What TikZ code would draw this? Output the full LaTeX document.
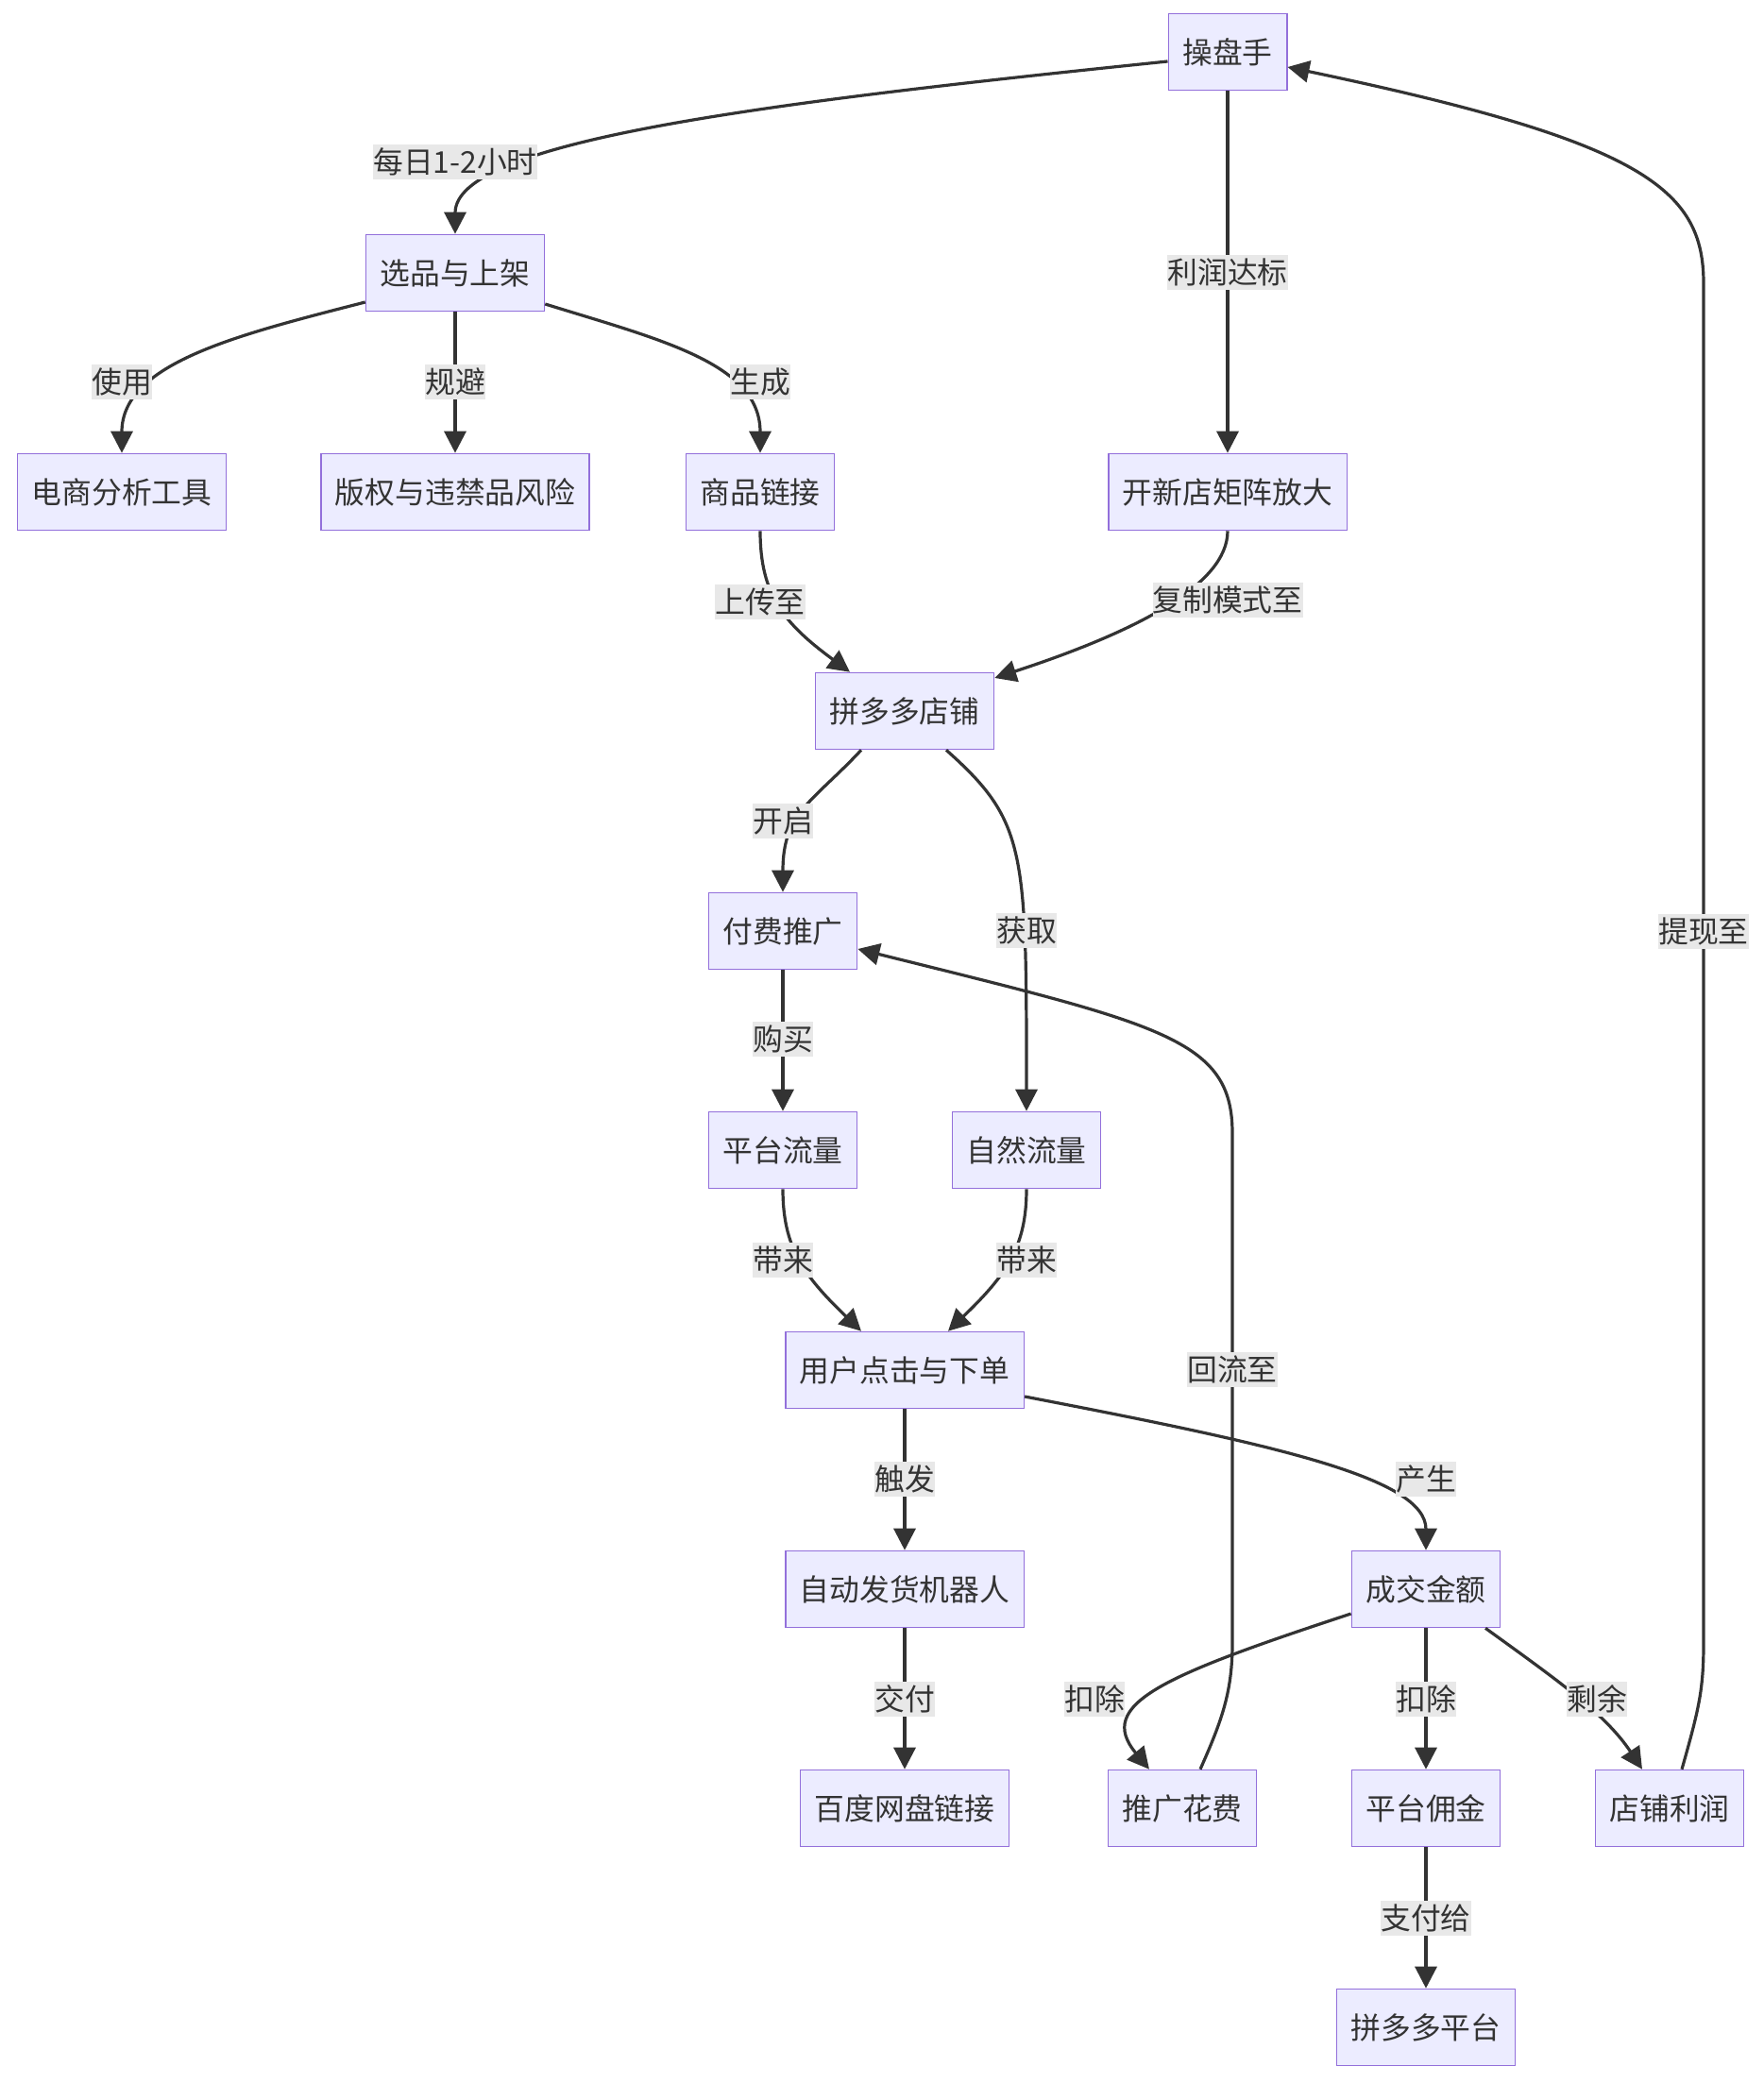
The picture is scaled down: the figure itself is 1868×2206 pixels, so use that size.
\documentclass[tikz,border=0pt]{standalone}
\usepackage{fontspec}
\setmainfont{Noto Sans CJK SC}
\usetikzlibrary{arrows.meta}
\definecolor{nodefill}{HTML}{ECECFF}
\definecolor{nodeline}{HTML}{9370DB}
\definecolor{edgecol}{HTML}{333333}
\definecolor{lblbg}{HTML}{E8E8E8}
\begin{document}
\begin{tikzpicture}[x=1pt,y=-1pt,
  box/.style={draw=nodeline,fill=nodefill,line width=1.6pt,minimum height=81pt,
    inner xsep=15pt,inner ysep=0pt,text=edgecol,
    font=\fontsize{31.8pt}{38pt}\selectfont,text height=27pt,text depth=3pt},
  lbl/.style={fill=lblbg,inner sep=0pt,minimum height=37pt,text=edgecol,
    font=\fontsize{31.8pt}{38pt}\selectfont,text height=27pt,text depth=3pt},
  link/.style={draw=edgecol,line width=3.2pt,-{Triangle[length=23pt,width=23pt]}}]
\fill[white] (0,0) rectangle (1868,2206);
\useasboundingbox (0,0) rectangle (1868,2206);

% nodes
\node[box] (cps) at (1300,55) {操盘手};
\node[box] (xp) at (482,289) {选品与上架};
\node[box] (ds) at (129,521) {电商分析工具};
\node[box] (bq) at (482,521) {版权与违禁品风险};
\node[box] (sp) at (805,521) {商品链接};
\node[box] (kx) at (1300,521) {开新店矩阵放大};
\node[box] (pd) at (958,753) {拼多多店铺};
\node[box] (ff) at (829,986) {付费推广};
\node[box] (pl) at (829,1218) {平台流量};
\node[box] (zr) at (1087,1218) {自然流量};
\node[box] (yh) at (958,1451) {用户点击与下单};
\node[box] (zd) at (958,1683) {自动发货机器人};
\node[box] (cj) at (1510,1683) {成交金额};
\node[box] (bd) at (958,1915) {百度网盘链接};
\node[box] (tg) at (1252,1915) {推广花费};
\node[box] (yj) at (1510,1915) {平台佣金};
\node[box] (dp) at (1768,1915) {店铺利润};
\node[box] (pt) at (1510,2147) {拼多多平台};

% edges
\draw[link] ([yshift=-10pt]cps.west) .. controls (800,110) and (482,150) .. (xp.north);
\draw[link] (cps.south) -- (kx.north);
\draw[link] ([yshift=-31pt]xp.west) .. controls (250,355) and (129,385) .. (ds.north);
\draw[link] (xp.south) -- (bq.north);
\draw[link] ([yshift=-33pt]xp.east) .. controls (700,360) and (805,385) .. (sp.north);
\draw[link] (sp.south) .. controls (805,630) and (830,660) .. ([xshift=-58pt]pd.north);
\draw[link] (kx.south) .. controls (1300,620) and (1200,670) .. ([yshift=35pt]pd.east);
\draw[link] ([xshift=-46pt]pd.south) .. controls (860,850) and (829,860) .. (ff.north);
\draw[link] ([xshift=44pt]pd.south) .. controls (1087,870) and (1087,900) .. (zr.north);
\draw[link] (ff.south) -- (pl.north);
\draw[link] (pl.south) .. controls (829,1320) and (850,1350) .. ([xshift=-46pt]yh.north);
\draw[link] (zr.south) .. controls (1087,1320) and (1066,1350) .. ([xshift=46pt]yh.north);
\draw[link] (yh.south) -- (zd.north);
\draw[link] ([yshift=-28pt]yh.east) .. controls (1350,1530) and (1510,1565) .. (cj.north);
\draw[link] (zd.south) -- (bd.north);
\draw[link] ([yshift=-26pt]cj.west) .. controls (1230,1775) and (1160,1805) .. ([xshift=-35pt]tg.north);
\draw[link] (cj.south) -- (yj.north);
\draw[link] ([xshift=63pt]cj.south) .. controls (1650,1780) and (1700,1815) .. ([xshift=-29pt]dp.north);
\draw[link] (yj.south) -- (pt.north);
\draw[link] ([xshift=19pt]tg.north) .. controls (1295,1820) and (1305,1790) .. (1305,1740)
  -- (1305,1200) .. controls (1305,1100) and (1230,1085) .. ([yshift=-19pt]ff.east);
\draw[link] ([xshift=13pt]dp.north) .. controls (1799,1810) and (1804,1790) .. (1804,1740)
  -- (1804,300) .. controls (1804,200) and (1740,150) .. ([yshift=-16pt]cps.east);

% labels
\node[lbl] (l1) at (482,171) {每日1-2小时};
\node[lbl] (l2) at (1300,288) {利润达标};
\node[lbl] (l3) at (129,404) {使用};
\node[lbl] (l4) at (482,404) {规避};
\node[lbl] (l5) at (805,404) {生成};
\node[lbl] (l6) at (805,637) {上传至};
\node[lbl] (l7) at (1300,635) {复制模式至};
\node[lbl] (l8) at (829,869) {开启};
\node[lbl] (l9) at (1087,985) {获取};
\node[lbl] (l10) at (829,1100) {购买};
\node[lbl] (l11) at (829,1334) {带来};
\node[lbl] (l12) at (1087,1334) {带来};
\node[lbl] (l13) at (1305,1450) {回流至};
\node[lbl] (l14) at (958,1566) {触发};
\node[lbl] (l15) at (1510,1566) {产生};
\node[lbl] (l16) at (958,1799) {交付};
\node[lbl] (l17) at (1159,1799) {扣除};
\node[lbl] (l18) at (1510,1799) {扣除};
\node[lbl] (l19) at (1691,1799) {剩余};
\node[lbl] (l20) at (1510,2031) {支付给};
\node[lbl] (l21) at (1804,986) {提现至};
\end{tikzpicture}
\end{document}
